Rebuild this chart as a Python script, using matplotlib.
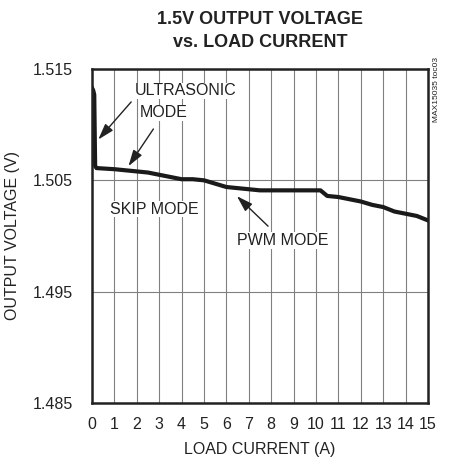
import matplotlib

matplotlib.use("Agg")
import matplotlib.pyplot as plt

# load current (A) and output voltage (V)
current = [0.0, 0.05, 0.1, 0.14, 0.2, 1.0, 1.5, 2.0, 2.5, 3.0, 3.5, 4.0, 4.5, 5.0,
           5.5, 6.0, 6.5, 7.0, 7.5, 8.0, 9.0, 10.0, 10.2, 10.5, 11.0, 11.5, 12.0,
           12.5, 13.0, 13.5, 14.0, 14.5, 15.0]
voltage = [1.5133, 1.5131, 1.5127, 1.5063, 1.5061, 1.5060, 1.5059, 1.5058, 1.5057,
           1.5055, 1.5053, 1.5051, 1.5051, 1.5050, 1.5047, 1.5044, 1.5043, 1.5042,
           1.5041, 1.5041, 1.5041, 1.5041, 1.5041, 1.5036, 1.5035, 1.5033, 1.5031,
           1.5028, 1.5026, 1.5022, 1.5020, 1.5018, 1.5014]

x_ticks = list(range(0, 16))
y_ticks = [1.485, 1.495, 1.505, 1.515]

plt.rcParams["font.family"] = ["Liberation Sans", "DejaVu Sans"]
ink = "#222222"
fs = 11.5

fig = plt.figure(figsize=(4.51, 4.68), dpi=100)
ax = fig.add_axes([92 / 451, 1 - 403 / 468, 336 / 451, 334 / 468])

ax.plot(current, voltage, color="#1a1a1a", linewidth=3.0, solid_joinstyle="round")

ax.set_xlim(0, 15)
ax.set_ylim(1.485, 1.515)
ax.set_xticks(x_ticks)
ax.set_yticks(y_ticks)
ax.set_yticklabels([f"{v:.3f}" for v in y_ticks])
ax.tick_params(length=0, labelsize=fs, colors=ink, pad=10)
ax.tick_params(axis="y", pad=14)
ax.grid(True, color="#808080", linewidth=0.8)
for sp in ax.spines.values():
    sp.set_linewidth(1.8)
    sp.set_color(ink)

ax.set_xlabel("LOAD CURRENT (A)", fontsize=fs, color=ink, labelpad=7)
ax.set_ylabel("OUTPUT VOLTAGE (V)", fontsize=fs, color=ink, labelpad=9)

fig.text(260 / 451, 1 - 31 / 468, "1.5V OUTPUT VOLTAGE\nvs. LOAD CURRENT", ha="center",
         va="center", fontsize=13, fontweight="bold", color=ink, linespacing=1.4)
fig.text(437 / 451, 1 - 90 / 468, "MAX15035 toc03", rotation=90, ha="center",
         va="center", fontsize=6, color=ink)

box = dict(facecolor="white", edgecolor="none", pad=0.5)
arrow = dict(arrowstyle="-|>,head_length=0.7,head_width=0.22", color=ink,
             linewidth=1.0, mutation_scale=14)
ax.text(4.2, 1.51304, "ULTRASONIC", ha="center", va="center", fontsize=fs,
        color=ink, bbox=box)
ax.text(3.21, 1.51107, "MODE", ha="center", va="center", fontsize=fs,
        color=ink, bbox=box)
ax.annotate("", xy=(0.2, 1.50848), xytext=(1.83, 1.51223), arrowprops=arrow)
ax.annotate("", xy=(1.56, 1.50607), xytext=(2.81, 1.50982), arrowprops=arrow)
ax.text(2.77, 1.50241, "SKIP MODE", ha="center", va="center", fontsize=fs,
        color=ink, bbox=box)
ax.text(8.53, 1.4996, "PWM MODE", ha="center", va="center", fontsize=fs,
        color=ink, bbox=box)
ax.annotate("", xy=(6.38, 1.50375), xytext=(7.95, 1.50071), arrowprops=arrow)

fig.savefig("out.png", dpi=100)
